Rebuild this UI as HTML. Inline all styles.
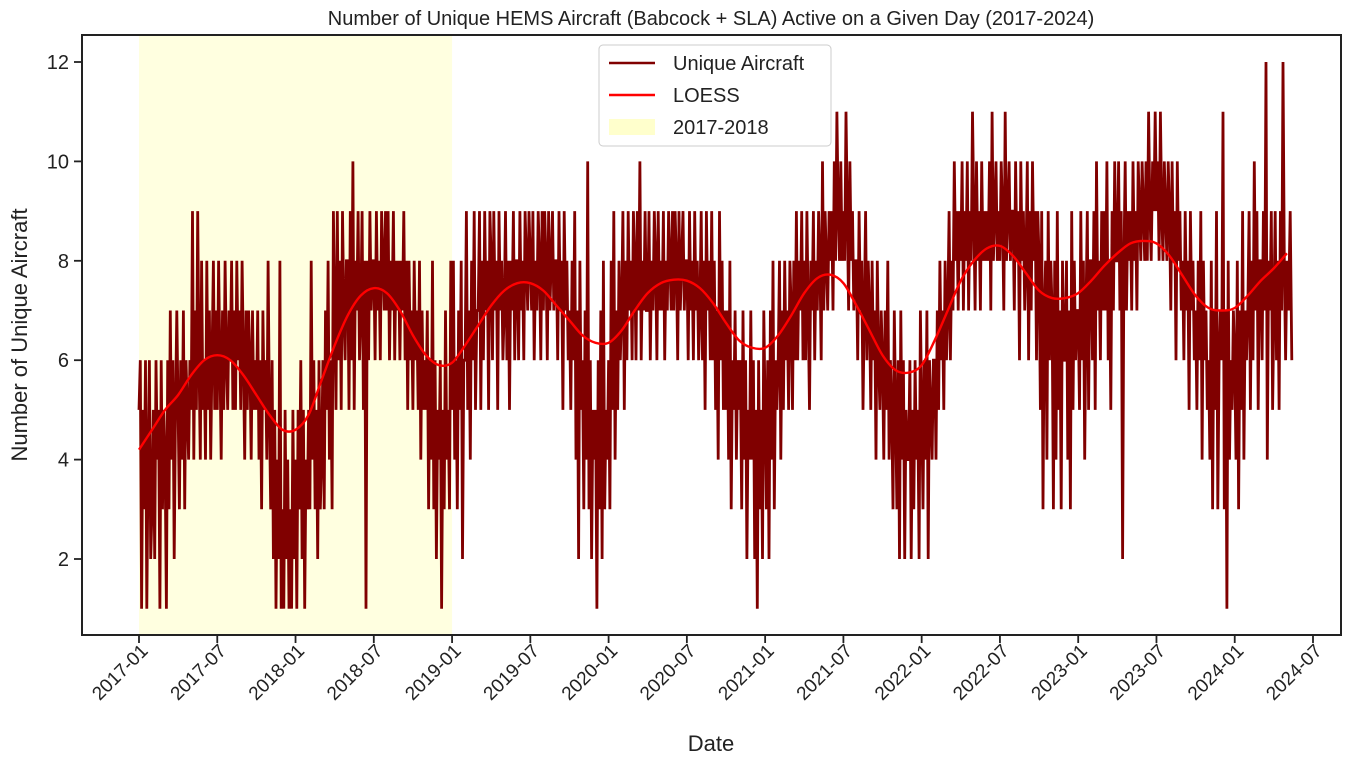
<!DOCTYPE html>
<html><head><meta charset="utf-8">
<style>
body{margin:0;background:#fff;font-family:"Liberation Sans",sans-serif;}
svg text{font-family:"Liberation Sans",sans-serif;fill:#222;}
</style></head>
<body>
<svg id="chart" width="1361" height="766" xmlns="http://www.w3.org/2000/svg">
<rect width="1361" height="766" fill="#fff"/>
<text x="711" y="25" font-size="20" text-anchor="middle">Number of Unique HEMS Aircraft (Babcock + SLA) Active on a Given Day (2017-2024)</text>
<g id="plot"></g>
<text x="711" y="751" font-size="22" text-anchor="middle">Date</text>
<text transform="translate(27,335) rotate(-90)" font-size="22" text-anchor="middle">Number of Unique Aircraft</text>
</svg>
<script>
const monthlyReadings = [
"5 6 1 5 3 6 1 4 6 2","3 5 2 6 4 5 1 6 3 5","4 1 6 3 7 4 6 2 5 7","5 3 6 4 7 3 6 5 4 6","5 9 4 7 5 9 6 4 8 5","6 4 8 5 7 4 6 8 5 7","5 8 6 4 7 5 8 6 5 7","6 8 5 7 5 8 6 7 5 8","6 4 7 5 7 6 4 7 5 6","5 7 4 6 3 7 5 6 4 8","5 3 6 2 5 1 4 2 8 1","3 1 5 2 4 1 3 1 5 2",
"4 1 5 3 6 2 5 1 4 3","5 3 8 4 6 3 5 2 6 3","4 6 3 7 5 8 4 6 3 9","7 5 9 6 8 5 9 7 6 8","8 5 9 6 10 5 8 7 9 6","7 9 5 8 1 8 6 9 7 8","8 6 9 7 8 6 9 8 7 9","7 9 6 8 7 9 6 8 7 8","6 8 7 9 6 8 5 8 6 7","5 8 6 7 5 8 4 7 5 6","5 7 3 6 4 8 3 6 2 5","4 6 1 5 3 7 4 5 3 8",
"5 8 4 6 3 7 5 8 2 6","6 9 5 7 4 8 6 9 5 7","7 9 5 8 6 9 7 8 5 9","8 6 9 7 8 5 9 7 8 6","7 9 6 8 5 8 7 9 6 8","8 6 9 7 8 6 9 8 7 9","8 7 9 6 8 7 9 8 6 9","7 9 8 6 9 7 8 9 7 8","8 6 9 7 8 5 9 7 8 6","7 5 8 6 9 4 7 2 8 5","6 3 7 4 10 3 6 2 5 4","5 1 6 3 7 2 8 3 5 4",
"6 3 8 5 9 4 7 5 8 6","7 9 5 8 6 9 7 8 6 9","8 6 9 7 10 6 8 7 9 7","7 9 6 8 7 9 8 6 9 7","8 7 9 6 8 7 9 8 7 9","7 9 8 6 9 7 8 9 7 8","8 6 9 7 8 6 9 7 8 6","7 9 6 8 5 9 7 8 6 9","6 8 5 7 4 9 6 8 5 7","5 7 4 8 3 6 5 7 4 6","5 6 3 7 4 6 2 5 4 7","4 6 2 5 1 6 3 5 2 7",
"5 3 6 2 7 4 8 3 6 5","6 8 4 7 5 8 6 7 5 8","7 5 8 6 9 6 8 7 9 6","8 6 9 7 5 8 7 9 6 8","7 9 8 6 10 7 9 8 7 9","8 9 7 10 8 11 9 8 10 8","9 8 11 9 7 10 8 9 7 8","8 6 9 7 8 5 7 9 6 8","7 5 8 6 7 4 8 6 5 7","6 4 7 5 8 4 6 5 3 7","5 3 6 2 7 4 6 2 5 4","4 6 2 5 3 6 4 5 2 7",
"5 3 6 4 7 2 6 5 4 6","6 4 7 5 8 6 7 5 8 6","7 9 6 8 7 10 8 9 7 9","8 10 7 9 8 10 7 9 8 11","9 7 10 8 9 7 10 8 9 8","9 8 10 7 11 8 9 10 8 9","8 10 9 7 11 8 9 10 8 9","9 7 10 8 9 6 10 8 9 7","8 10 6 9 7 10 8 9 6 9","8 5 9 3 7 8 4 9 6 8","7 3 8 4 9 5 7 3 8 6","6 8 4 7 3 9 5 8 6 7",
"7 5 9 6 8 4 7 9 5 8","8 6 9 5 10 7 8 6 9 7","9 7 10 6 8 5 9 7 10 8","8 10 7 9 2 8 10 7 9 8","9 7 10 8 9 7 10 9 8 10","9 8 10 8 11 9 8 10 9 11","9 10 8 11 9 8 10 9 8 10","9 7 10 8 9 6 10 8 9 7","8 6 9 7 8 5 9 7 8 6","7 5 8 6 9 4 8 6 7 5","6 4 8 3 7 5 9 3 6 7","6 11 3 7 1 8 4 6 5 7",
"6 4 8 3 7 5 9 4 7 6","7 9 5 8 6 10 7 9 5 8","8 6 9 7 12 4 8 7 9 5","7 9 6 8 5 9 7 12 8 6","8 7 9 6"
];
const loessValues = [4.2,4.6,5.0,5.3,5.7,6.0,6.1,6.0,5.7,5.3,4.9,4.6,
4.6,4.9,5.6,6.3,6.9,7.3,7.45,7.35,7.0,6.5,6.1,5.9,
5.95,6.3,6.7,7.1,7.4,7.55,7.55,7.4,7.1,6.8,6.5,6.35,
6.35,6.6,7.0,7.35,7.55,7.62,7.6,7.45,7.15,6.75,6.4,6.25,
6.25,6.5,6.9,7.35,7.65,7.72,7.55,7.1,6.6,6.1,5.8,5.75,
5.9,6.4,7.0,7.6,8.0,8.25,8.3,8.1,7.75,7.4,7.25,7.25,
7.35,7.6,7.9,8.15,8.35,8.4,8.35,8.1,7.7,7.3,7.05,7.0,
7.05,7.3,7.6,7.85,8.15];
const yTicks = [2,4,6,8,10,12];
const xTickLabels = ["2017-01","2017-07","2018-01","2018-07","2019-01","2019-07","2020-01","2020-07","2021-01","2021-07","2022-01","2022-07","2023-01","2023-07","2024-01","2024-07"];
const shadeRange = ["2017-01","2019-01"];

const NS="http://www.w3.org/2000/svg";
const L=82,R=1341,T=35,B=635;
const X0=139, PXM=(1313-139)/90;
function monthIndex(s){const [y,m]=s.split('-').map(Number);return (y-2017)*12+(m-1);}
function xm(mi){return X0+mi*PXM;}
function yv(v){return 559-(v-2)*49.7;}
const g=document.getElementById('plot');
function mk(tag,attrs,parent){const e=document.createElementNS(NS,tag);for(const k in attrs)e.setAttribute(k,attrs[k]);(parent||g).appendChild(e);return e;}

const sh=mk('rect',{x:xm(monthIndex(shadeRange[0])),y:T,width:xm(monthIndex(shadeRange[1]))-xm(monthIndex(shadeRange[0])),height:B-T,fill:'#ffffe0'});



let pts=[];
monthlyReadings.forEach((s,mi)=>{const vals=s.split(' ').map(Number);const span=(mi===monthlyReadings.length-1)?0.5:1;vals.forEach((v,i)=>{pts.push(xm(mi+span*i/vals.length).toFixed(1)+','+yv(v).toFixed(1));});});
const line=mk('polyline',{points:pts.join(' '),fill:'none',stroke:'#800000','stroke-width':2.8,'stroke-linejoin':'miter'});



const lp=loessValues.map((v,i)=>[xm(i),yv(v)]);
let d='M'+lp[0][0]+','+lp[0][1];
for(let i=0;i<lp.length-1;i++){const p0=lp[Math.max(0,i-1)],p1=lp[i],p2=lp[i+1],p3=lp[Math.min(lp.length-1,i+2)];
d+=` C${p1[0]+(p2[0]-p0[0])/6},${p1[1]+(p2[1]-p0[1])/6} ${p2[0]-(p3[0]-p1[0])/6},${p2[1]-(p3[1]-p1[1])/6} ${p2[0]},${p2[1]}`;}
const lo=mk('path',{d:d,fill:'none',stroke:'#ff0000','stroke-width':2.4});



const fr=mk('rect',{x:L,y:T,width:R-L,height:B-T,fill:'none',stroke:'#222','stroke-width':2});



yTicks.forEach(v=>{const y=yv(v);
const t=mk('line',{x1:L-8,x2:L,y1:y,y2:y,stroke:'#222','stroke-width':1.8});


const tx=mk('text',{x:L-13,y:y+7,'font-size':20,'text-anchor':'end'});tx.textContent=v;

});

xTickLabels.forEach(s=>{const x=xm(monthIndex(s));
const t=mk('line',{x1:x,x2:x,y1:B,y2:B+8,stroke:'#222','stroke-width':1.8});


const tx=mk('text',{x:0,y:0,'font-size':19,'text-anchor':'end',transform:`translate(${x+10},${B+17}) rotate(-45)`});tx.textContent=s;

});

const lg=mk('g',{});


mk('rect',{x:599,y:45,width:232,height:101,rx:4,fill:'#fff','fill-opacity':0.85,stroke:'#ccc'},lg);
const entries=[['Unique Aircraft','#800000','line'],['LOESS','#ff0000','line'],['2017-2018','#ffffe0','patch']];
entries.forEach((e,i)=>{const y=63+i*32;
const it=mk('g',{},lg);


if(e[2]==='line')mk('line',{x1:609,x2:655,y1:y,y2:y,stroke:e[1],'stroke-width':2.5},it);
else mk('rect',{x:609,y:y-8,width:46,height:16,fill:'#ffffcc'},it);
const tx=mk('text',{x:673,y:y+7,'font-size':20},it);tx.textContent=e[0];});
</script>
</body></html>
